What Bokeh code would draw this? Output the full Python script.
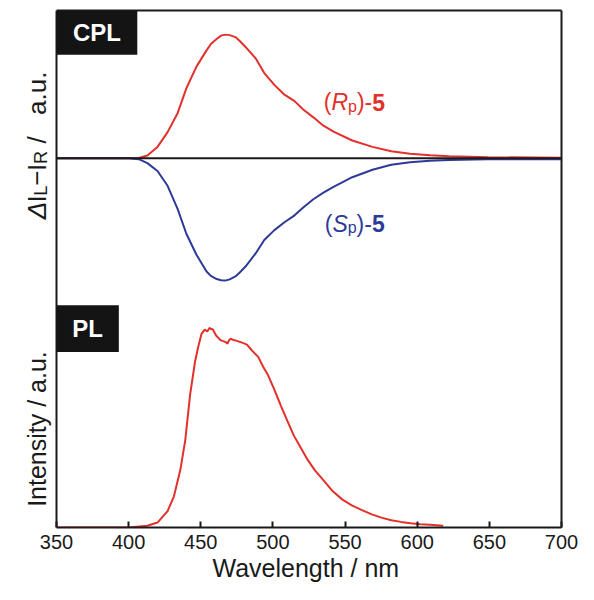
import math
from bokeh.plotting import figure
from bokeh.models import Range1d, FixedTicker, BoxAnnotation, Label, LinearAxis, Title
from bokeh.embed import file_html
from bokeh.resources import INLINE

# ---------------- data ----------------
wavelength_cpl = [350, 400, 407, 413, 420, 427, 434, 440, 447, 454, 457, 461, 464, 467,
                  470, 474, 477, 481, 488, 494, 501, 508, 515, 521, 528, 535, 542,
                  555, 569, 582, 595, 609, 622, 649, 700]
cpl_rp = [0, 0, 0.3, 2.8, 11.5, 26.5, 46, 71, 93, 109.5, 116, 121, 124.5, 125.5,
          125, 123, 119, 113, 101.5, 86.5, 74.5, 64.5, 58, 49.5, 41.5, 33, 27,
          18, 11.5, 7, 4.5, 3, 2, 1, 0.5]
cpl_sp = [0, 0, -1, -5, -13, -28, -51.7, -76.7, -98, -115, -119.5, -122.7, -124, -124.3,
          -123, -120, -116, -110, -96.7, -83, -73, -65, -58, -50, -41.7, -35, -29,
          -19.3, -11.7, -6.7, -4, -2.5, -1.7, -1, -1]

wavelength_pl = [350, 400, 413, 420, 427, 431.4, 435.8, 439.2, 442.6, 446, 448.2,
                 450.5, 452.7, 454.5, 456, 457.2, 458.4, 460.6, 462.5, 464, 466,
                 467.3, 468.5, 469.5, 470.7, 472.5, 474, 476, 478.6, 482, 485.3,
                 489.8, 493.2, 496.5, 501, 505.6, 510, 514.5, 519, 523.5, 529,
                 534.8, 541.5, 548.2, 555, 561.7, 568.5, 575.2, 582, 588.7, 595.4,
                 602.2, 609, 618]
pl_intensity = [0, 0, 1.7, 5, 16.7, 31.7, 58.3, 88.3, 135, 168.3, 183.3,
                196.7, 201, 199, 202.7, 201.5, 201, 195, 192, 190, 189,
                188.3, 186.7, 190, 191.7, 190.5, 190, 189, 187.7, 185.7, 180,
                173.3, 163.3, 155, 140, 123.3, 108.3, 93.3, 81.7, 70, 58.3,
                48.3, 36.7, 28.3, 22.3, 17.7, 13.3, 10, 7.3, 5.7, 4.3,
                3.3, 2.7, 1.7]

x_ticks = [350, 400, 450, 500, 550, 600, 650, 700]

RED = "#E3302A"
BLUE = "#2E3A98"
INK = "#1a1a1a"
FONT = "Liberation Sans"

# ---------------- geometry ----------------
WIDTH, HEIGHT = 578, 584
TOP, BOTTOM = 10, 57
LEFT, RIGHT = 8, 17
AXIS_PX = 56                     # pixel where the 350 nm axis sits
FRAME_H = HEIGHT - TOP - BOTTOM
NM_PER_PX = (700 - 350) / (WIDTH - RIGHT - AXIS_PX)
X0 = 350 - (AXIS_PX - LEFT) * NM_PER_PX
UNIT = 525.0 / FRAME_H           # data units per vertical pixel


def px2nm(px):
    return X0 + (px - LEFT) * NM_PER_PX


def py2cpl(py):                  # reference-scale y pixel -> CPL data units
    return 160 - py


p = figure(width=WIDTH, height=HEIGHT, output_backend="svg", toolbar_location=None,
           title=None,
           x_range=Range1d(X0, 700), y_range=Range1d(-375, 150),
           min_border_left=LEFT, min_border_right=RIGHT, min_border_top=TOP,
           min_border_bottom=BOTTOM)
p.extra_y_ranges = {"pl": Range1d(0, 525)}
p.xgrid.visible = False
p.ygrid.visible = False
p.outline_line_color = None


def style_plain(axis):
    axis.ticker = FixedTicker(ticks=[])
    axis.major_tick_in = 0
    axis.major_tick_out = 0
    axis.minor_tick_in = 0
    axis.minor_tick_out = 0
    axis.major_label_standoff = 0
    axis.axis_line_width = 2
    axis.axis_line_color = INK


ax = p.xaxis[0]
ax.bounds = (350, 700)
ax.ticker = FixedTicker(ticks=x_ticks)
ax.major_tick_in = 6
ax.major_tick_out = 0
ax.minor_tick_in = 0
ax.minor_tick_out = 0
ax.major_tick_line_width = 2
ax.major_tick_line_color = INK
ax.axis_line_width = 2
ax.axis_line_color = INK
ax.major_label_text_font = FONT
ax.major_label_text_font_size = "20px"
ax.major_label_text_color = INK
ax.major_label_standoff = 7
ax.axis_label = None

p.add_layout(Title(text="Wavelength / nm", align="left", offset=204, standoff=0,
                   text_font=FONT, text_font_size="25px", text_font_style="normal",
                   text_color=INK), "below")

ay = p.yaxis[0]
style_plain(ay)
ay.fixed_location = 350

top_axis = LinearAxis(bounds=(350, 700))
style_plain(top_axis)
p.add_layout(top_axis, "above")
right_axis = LinearAxis()
style_plain(right_axis)
p.add_layout(right_axis, "right")

# curves
p.line(wavelength_cpl, cpl_rp, line_color=RED, line_width=2)
p.line(wavelength_cpl, cpl_sp, line_color=BLUE, line_width=2)
p.line([x_ticks[0], x_ticks[-1]], [0, 0], line_color=INK, line_width=2)
p.line(wavelength_pl, pl_intensity, line_color=RED, line_width=2, y_range_name="pl")

# panel tags
p.add_layout(BoxAnnotation(left=350, right=406, top=150, bottom=105,
                           fill_color="#141414", fill_alpha=1, line_alpha=0))
p.add_layout(Label(x=378, y=127.5, text="CPL", text_color="white",
                   text_font=FONT, text_font_style="bold", text_font_size="24px",
                   text_align="center", text_baseline="middle"))
p.add_layout(BoxAnnotation(left=350, right=393.2, top=-149.3, bottom=-196.7,
                           fill_color="#141414", fill_alpha=1, line_alpha=0))
p.add_layout(Label(x=371.6, y=-173, text="PL", text_color="white",
                   text_font=FONT, text_font_style="bold", text_font_size="24px",
                   text_align="center", text_baseline="middle"))

# rich text helpers (Arial-like advance widths)
W = {"(": .333, ")": .333, "-": .333, "R": .722, "S": .667, "p": .556, "5": .556}


def wid(s, size):
    return sum(W.get(c, .556) for c in s) * size


def horiz(x0, y0, pieces, color):
    off = 0.0
    for txt, size, style, dy in pieces:
        p.add_layout(Label(x=x0, y=y0 - dy * UNIT, x_offset=off, text=txt,
                           text_color=color, text_font=FONT,
                           text_font_size=f"{size}px", text_font_style=style,
                           text_align="left", text_baseline="alphabetic"))
        off += wid(txt, size)


horiz(535.2, 57, [("(", 23, "normal", 0), ("R", 23, "italic", 0), ("p", 16, "normal", 4),
                  (")-", 23, "normal", 0), ("5", 23, "bold", 0)], RED)
horiz(535.9, -66.7, [("(", 23, "normal", 0), ("S", 23, "italic", 0), ("p", 16, "normal", 4),
                     (")-", 23, "normal", 0), ("5", 23, "bold", 0)], BLUE)

# rotated axis titles (drawn in the white strip left of the 350 nm axis)
BASE_PX = 36


def vert_piece(txt, bottom_py, size, style, dx):
    p.add_layout(Label(x=px2nm(BASE_PX + dx), y=py2cpl(bottom_py), text=txt,
                       text_color=INK, text_font=FONT, text_font_size=f"{size}px",
                       text_font_style=style, text_align="left",
                       text_baseline="alphabetic", angle=math.pi / 2))


vert_piece("Δ", 222, 26, "italic", 0)
vert_piece("I", 205, 26, "normal", 0)
vert_piece("L", 198, 18, "normal", 4)
vert_piece("−", 188, 26, "normal", 0)
vert_piece("I", 173, 26, "normal", 0)
vert_piece("R", 166, 18, "normal", 4)
vert_piece("/", 145, 26, "normal", 0)
vert_piece("a.u.", 116, 26, "normal", 0)

p.add_layout(Label(x=px2nm(BASE_PX), y=py2cpl(435), text="Intensity / a.u.",
                   text_color=INK, text_font=FONT, text_font_size="25px",
                   text_align="center", text_baseline="alphabetic",
                   angle=math.pi / 2))

open("out.html", "w").write(file_html(p, INLINE))
